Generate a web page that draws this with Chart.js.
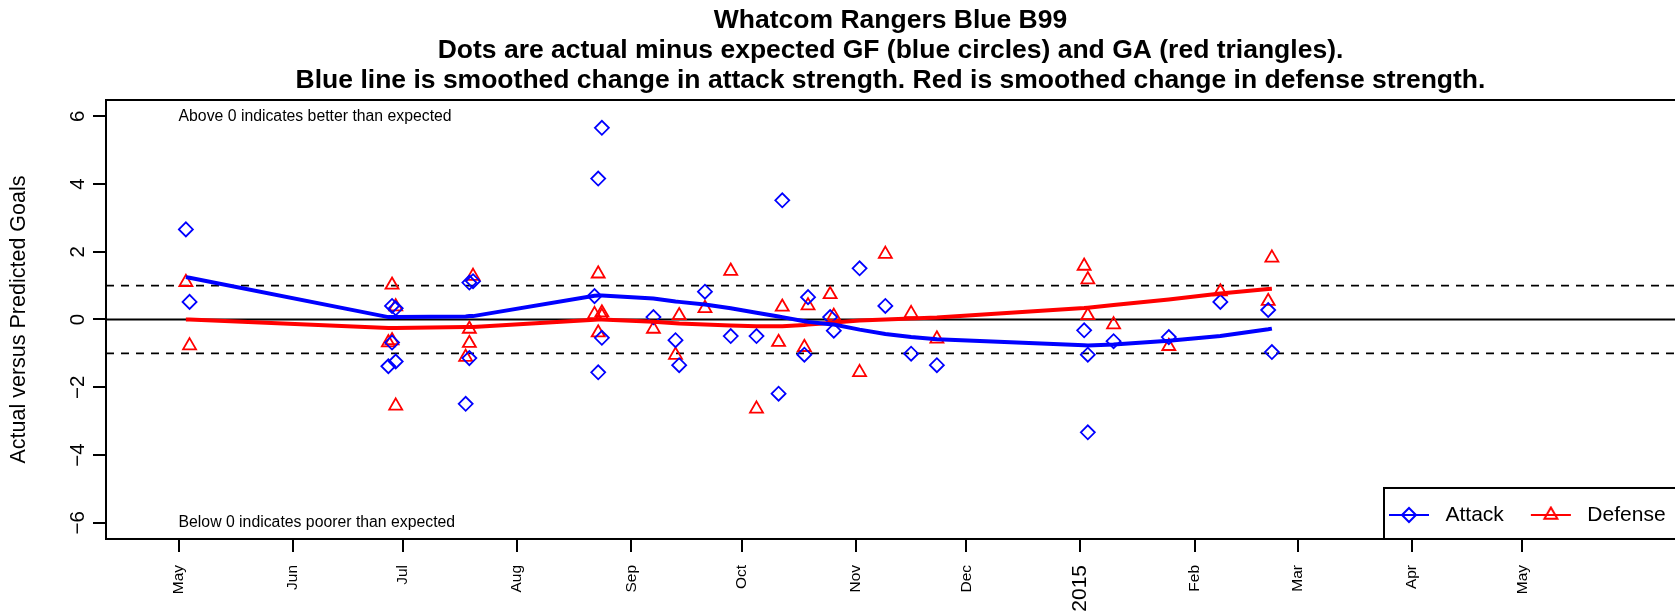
<!DOCTYPE html>
<html><head><meta charset="utf-8">
<script src="https://cdn.jsdelivr.net/npm/chart.js@4.4.1/dist/chart.umd.min.js"></script>
<style>html,body{margin:0;padding:0;background:#fff;}canvas{display:block;}</style>
</head><body>
<canvas id="c" width="1675" height="614"></canvas>
<script>
// ---------- data ----------
const titleLines = [
  'Whatcom Rangers Blue B99',
  'Dots are actual minus expected GF (blue circles) and GA (red triangles).',
  'Blue line is smoothed change in attack strength. Red is smoothed change in defense strength.'
];
const yAxisTitle = 'Actual versus Predicted Goals';
const seriesNames = ['Attack', 'Defense'];

const gameDates = [
  '2014-05-03','2014-05-04',
  '2014-06-27','2014-06-28','2014-06-28','2014-06-29','2014-06-29',
  '2014-07-18','2014-07-19','2014-07-19','2014-07-20',
  '2014-08-22','2014-08-23','2014-08-23','2014-08-24','2014-08-24',
  '2014-09-07','2014-09-13','2014-09-14','2014-09-21','2014-09-28',
  '2014-10-05','2014-10-11','2014-10-12','2014-10-18','2014-10-19','2014-10-25','2014-10-26',
  '2014-11-02','2014-11-09','2014-11-16','2014-11-23',
  '2015-01-02','2015-01-03','2015-01-03','2015-01-10','2015-01-25','2015-02-08','2015-02-21','2015-02-22'
];
const attackDiff = [
  2.66, 0.52,
  -1.38, 0.40, -0.68, 0.33, -1.24,
  -2.49, -1.14, 1.09, 1.13,
  0.69, 4.16, -1.56, 5.66, -0.54,
  0.07, -0.61, -1.35, 0.82, -0.49,
  -0.49, -2.19, 3.52, -1.04, 0.66, 0.07, -0.33,
  1.51, 0.40, -1.01, -1.35,
  -0.32, -1.04, -3.33, -0.64, -0.52, 0.52, 0.28, -0.96
];
const defenseDiff = [
  1.10, -0.77,
  -0.68, 1.02, -0.62, 0.38, -2.55,
  -1.11, -0.70, -0.28, 1.28,
  0.15, 1.35, -0.39, 0.20, 0.10,
  -0.28, -1.05, 0.12, 0.33, 1.43,
  -2.64, -0.67, 0.37, -0.82, 0.41, 0.74, 0.10,
  -1.56, 1.93, 0.18, -0.57,
  1.58, 1.18, 0.12, -0.15, -0.79, 0.82, 0.54, 1.82
];

const smoothDates = [
  '2014-05-03','2014-05-04','2014-06-27','2014-06-28','2014-06-29','2014-07-18','2014-07-19','2014-07-20',
  '2014-08-22','2014-08-23','2014-08-24','2014-09-07','2014-09-13','2014-09-14','2014-09-21','2014-09-28',
  '2014-10-05','2014-10-11','2014-10-12','2014-10-18','2014-10-19','2014-10-25','2014-10-26',
  '2014-11-02','2014-11-09','2014-11-16','2014-11-23',
  '2015-01-02','2015-01-03','2015-01-10','2015-01-25','2015-02-08','2015-02-21','2015-02-22'
];
const attackSmooth = [
  1.25, 1.23, 0.07, 0.07, 0.07, 0.09, 0.10, 0.10,
  0.70, 0.71, 0.71, 0.62, 0.53, 0.52, 0.44, 0.33,
  0.20, 0.09, 0.07, -0.05, -0.07, -0.14, -0.15,
  -0.30, -0.43, -0.52, -0.58,
  -0.76, -0.77, -0.74, -0.63, -0.49, -0.29, -0.27
];
const defenseSmooth = [
  0.00, 0.00, -0.25, -0.25, -0.25, -0.22, -0.22, -0.22,
  -0.01, 0.00, 0.00, -0.07, -0.11, -0.12, -0.15, -0.18,
  -0.20, -0.20, -0.20, -0.16, -0.15, -0.10, -0.09,
  -0.03, 0.00, 0.03, 0.06,
  0.34, 0.35, 0.43, 0.59, 0.77, 0.90, 0.91
];

const xTickDates = ['2014-05-01','2014-06-01','2014-07-01','2014-08-01','2014-09-01','2014-10-01',
  '2014-11-01','2014-12-01','2015-01-01','2015-02-01','2015-03-01','2015-04-01','2015-05-01'];
const xTickLabels = ['May','Jun','Jul','Aug','Sep','Oct','Nov','Dec','2015','Feb','Mar','Apr','May'];
const yTickValues = [-6, -4, -2, 0, 2, 4, 6];
const yTickLabels = ['\u22126', '\u22124', '\u22122', '0', '2', '4', '6'];
const refLevels = [0, 1, -1];
const noteTexts = ['Above 0 indicates better than expected', 'Below 0 indicates poorer than expected'];
const noteDates = ['2014-05-01', '2014-05-01'];
const noteValues = [6, -6];

// ---------- helpers ----------
const ORIGIN = Date.UTC(2014, 4, 1);
function dayOf(s) { const [y, m, d] = s.split('-').map(Number); return (Date.UTC(y, m - 1, d) - ORIGIN) / 864e5; }
const X_MIN = -19.7, X_MAX = 406.5, Y_MIN = -6.48, Y_MAX = 6.48;
const BLUE = '#0000FF', RED = '#FF0000';
const FONT = '"Liberation Sans", Arial, Helvetica, sans-serif';
Chart.defaults.font.family = FONT;
Chart.defaults.color = '#000';

const pts = (dates, vals) => dates.map((d, i) => ({ x: dayOf(d), y: vals[i] }));

function legendIcon(color, shape) {
  const c = document.createElement('canvas'); c.width = 42; c.height = 18;
  const g = c.getContext('2d');
  g.strokeStyle = color; g.lineWidth = 2;
  g.beginPath(); g.moveTo(1, 9); g.lineTo(41, 9); g.stroke();
  g.beginPath();
  if (shape === 'diamond') { g.moveTo(14, 9); g.lineTo(21, 2); g.lineTo(28, 9); g.lineTo(21, 16); g.closePath(); }
  else { g.moveTo(21, 1.5); g.lineTo(27.5, 12.75); g.lineTo(14.5, 12.75); g.closePath(); }
  g.stroke();
  return c;
}
const legendIcons = [legendIcon(BLUE, 'diamond'), legendIcon(RED, 'triangle')];

const LEGEND_SYMBOL_LEFT = 1383, LEGEND_BOX_LEFT = 1384, LEGEND_BOX_H = 51, LEGEND_PAD = 21;

const legendPlacer = {
  id: 'legendPlacer',
  afterLayout(chart) {
    const lg = chart.legend, ca = chart.chartArea;
    if (!lg) return;
    lg.left = LEGEND_SYMBOL_LEFT - LEGEND_PAD;
    lg.right = chart.width + 40;
    lg.top = ca.bottom - LEGEND_BOX_H / 2 - 10.5 - LEGEND_PAD + 1.5;
    lg.bottom = ca.bottom;
    lg.width = lg.right - lg.left;
    lg.height = lg.bottom - lg.top;
  }
};

const framePlugin = {
  id: 'frame',
  afterDatasetsDraw(chart) {
    const { ctx, scales } = chart;
    ctx.save();
    ctx.fillStyle = '#000';
    ctx.font = '15.8px ' + FONT;
    ctx.textAlign = 'left';
    ctx.textBaseline = 'middle';
    noteTexts.forEach((t, i) => {
      ctx.fillText(t, scales.x.getPixelForValue(dayOf(noteDates[i])), scales.y.getPixelForValue(noteValues[i]));
    });
    ctx.restore();
  },
  afterDraw(chart) {
    const { ctx, chartArea: ca } = chart;
    ctx.save();
    ctx.strokeStyle = '#000';
    ctx.lineWidth = 2;
    ctx.strokeRect(ca.left, ca.top, ca.right - ca.left + 10, ca.bottom - ca.top);
    ctx.strokeRect(LEGEND_BOX_LEFT, ca.bottom - LEGEND_BOX_H, chart.width + 20 - LEGEND_BOX_LEFT, LEGEND_BOX_H);
    ctx.restore();
  }
};

const refSets = refLevels.map((lv, i) => ({
  label: 'ref' + i,
  data: [{ x: X_MIN, y: lv }, { x: X_MAX, y: lv }],
  showLine: true, borderColor: '#000', borderWidth: 1.8,
  borderDash: lv === 0 ? [] : [8, 7],
  pointRadius: 0, pointHoverRadius: 0, order: 5
}));

new Chart(document.getElementById('c'), {
  type: 'scatter',
  data: {
    datasets: [
      { label: seriesNames[0], data: pts(smoothDates, attackSmooth), showLine: true, borderColor: BLUE, borderWidth: 4,
        pointRadius: 0, pointHoverRadius: 0, tension: 0, order: 1 },
      { label: seriesNames[1], data: pts(smoothDates, defenseSmooth), showLine: true, borderColor: RED, borderWidth: 4,
        pointRadius: 0, pointHoverRadius: 0, tension: 0, order: 2 },
      { label: 'GF', data: pts(gameDates, attackDiff), showLine: false, pointStyle: 'rectRot', pointRadius: 7,
        pointBorderWidth: 1.8, pointBorderColor: BLUE, pointBackgroundColor: 'rgba(0,0,0,0)', order: 3 },
      { label: 'GA', data: pts(gameDates, defenseDiff), showLine: false, pointStyle: 'triangle', pointRadius: 7.5,
        pointBorderWidth: 1.8, pointBorderColor: RED, pointBackgroundColor: 'rgba(0,0,0,0)', order: 4 },
      ...refSets
    ]
  },
  options: {
    responsive: false, animation: false, devicePixelRatio: 1,
    layout: { padding: 0, autoPadding: false },
    plugins: {
      tooltip: { enabled: false },
      title: {
        display: true, text: titleLines, fullSize: false, color: '#000',
        font: { size: 26.5, weight: 'bold', lineHeight: '30px' },
        padding: { top: 6, bottom: 4 }
      },
      legend: {
        display: true, position: 'bottom', align: 'start', maxHeight: 0.01,
        labels: {
          usePointStyle: true, pointStyleWidth: 52, padding: LEGEND_PAD, color: '#000',
          font: { size: 21 },
          generateLabels: (chart) => [0, 1].map(i => ({
            text: chart.data.datasets[i].label, datasetIndex: i, pointStyle: legendIcons[i],
            fillStyle: 'rgba(0,0,0,0)', strokeStyle: chart.data.datasets[i].borderColor,
            lineWidth: 0, hidden: false, fontColor: '#000'
          }))
        }
      }
    },
    scales: {
      x: {
        type: 'linear', min: X_MIN, max: X_MAX,
        afterBuildTicks: s => { s.ticks = xTickDates.map(d => ({ value: dayOf(d) })); },
        afterFit: s => { s.height = 75; },
        ticks: {
          autoSkip: false, minRotation: 90, maxRotation: 90, padding: 13, color: '#000',
          callback: (v, i) => xTickLabels[i],
          font: (ctx) => ({ size: xTickLabels[ctx.index] === '2015' ? 21 : 15.5 })
        },
        grid: { drawOnChartArea: false, drawTicks: true, tickLength: 13, color: '#000', lineWidth: 2 },
        border: { display: false }
      },
      y: {
        type: 'linear', min: Y_MIN, max: Y_MAX,
        afterBuildTicks: s => { s.ticks = yTickValues.map(v => ({ value: v })); },
        afterFit: s => { s.width = 106; },
        ticks: {
          minRotation: 90, maxRotation: 90, crossAlign: 'center', padding: 3, color: '#000',
          font: { size: 20.5 },
          callback: (v, i) => yTickLabels[i]
        },
        grid: { drawOnChartArea: false, drawTicks: true, tickLength: 13, color: '#000', lineWidth: 2 },
        border: { display: false },
        title: { display: true, text: yAxisTitle, color: '#000', font: { size: 21.5 }, padding: { top: 6, bottom: 0 } }
      }
    }
  },
  plugins: [legendPlacer, framePlugin]
});
</script>
</body></html>
